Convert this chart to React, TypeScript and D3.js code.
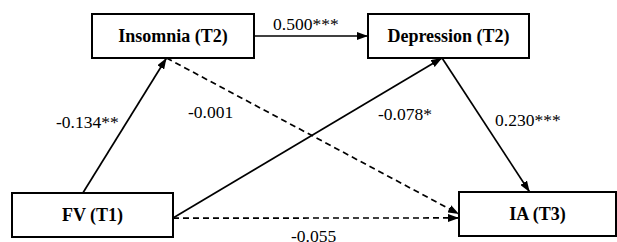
import React from 'react';
import * as d3 from 'd3';

// Path model diagram: FV -> Insomnia -> Depression -> IA.
// Solid arrows are significant paths, dashed ones are not.

const W = 617;
const H = 242;
const FONT = "'Liberation Serif'";

const nodeIds = ['fv', 'ins', 'dep', 'ia'];
const nodeLabels = ['FV (T1)', 'Insomnia (T2)', 'Depression (T2)', 'IA (T3)'];

const pathFrom = ['fv', 'ins', 'ins', 'fv', 'dep', 'fv'];
const pathTo = ['ins', 'dep', 'ia', 'dep', 'ia', 'ia'];
const pathCoef = ['-0.134', '0.500', '-0.001', '-0.078', '0.230', '-0.055'];
const pathStars = ['**', '***', '', '*', '***', ''];

// layout (pixels)
const BOX: Record<string, { x: number; y: number; w: number; h: number }> = {
  fv: { x: 12, y: 193, w: 161, h: 44 },
  ins: { x: 92, y: 14, w: 162, h: 44 },
  dep: { x: 368, y: 14, w: 161, h: 44 },
  ia: { x: 459, y: 192, w: 157, h: 44 },
};

// where each arrow leaves its source / reaches its target, as fractions of the box
const ANCHOR_FROM = [[0.44, 0], [1, 0.5], [0.46, 1], [1, 0.57], [0.46, 1], [1, 0.57]];
const ANCHOR_TO = [[0.46, 1], [0, 0.5], [0, 0.5], [0.46, 1], [0.45, 0], [0, 0.59]];
const LABEL_POS = [[56, 128], [273, 30], [188, 118], [378, 120], [495, 126], [291, 242]];

const pt = (id: string, a: number[]): [number, number] => {
  const b = BOX[id];
  return [b.x + a[0] * b.w, b.y + a[1] * b.h];
};

const line = d3.line();

const App = () => {
  const edges = pathFrom.map((f, i) => ({
    d: line([pt(f, ANCHOR_FROM[i]), pt(pathTo[i], ANCHOR_TO[i])]) || '',
    label: pathCoef[i] + pathStars[i],
    sig: pathStars[i] !== '',
    lp: LABEL_POS[i],
  }));

  return (
    <svg
      width={W}
      height={H}
      style={{ position: 'absolute', left: 0, top: 0, background: '#fff', fontFamily: FONT }}
    >
      <defs>
        <marker
          id="arrow"
          markerUnits="userSpaceOnUse"
          viewBox="0 0 11 8"
          markerWidth={11}
          markerHeight={8}
          refX={11}
          refY={4}
          orient="auto"
        >
          <path d="M0,0 L11,4 L0,8 Z" fill="#000" />
        </marker>
      </defs>
      <g>
        {edges.map((e, i) => (
          <path
            key={i}
            d={e.d}
            fill="none"
            stroke="#000"
            strokeWidth={1.7}
            strokeDasharray={e.sig ? undefined : '6,4'}
            markerEnd="url(#arrow)"
          />
        ))}
      </g>
      <g>
        {edges.map((e, i) => (
          <text
            key={i}
            x={e.lp[0]}
            y={e.lp[1]}
            fill="#000"
            style={{ fontFamily: FONT, fontSize: '17.5px' }}
          >
            {e.label}
          </text>
        ))}
      </g>
      <g>
        {nodeIds.map((id, i) => {
          const b = BOX[id];
          return (
            <g key={id}>
              <rect x={b.x} y={b.y} width={b.w} height={b.h} fill="#fff" stroke="#000" strokeWidth={2} />
              <text
                x={b.x + b.w / 2}
                y={b.y + b.h / 2}
                dy="0.35em"
                textAnchor="middle"
                fill="#000"
                style={{ fontFamily: FONT, fontSize: '18px', fontWeight: 'bold' }}
              >
                {nodeLabels[i]}
              </text>
            </g>
          );
        })}
      </g>
    </svg>
  );
};

export default App;
